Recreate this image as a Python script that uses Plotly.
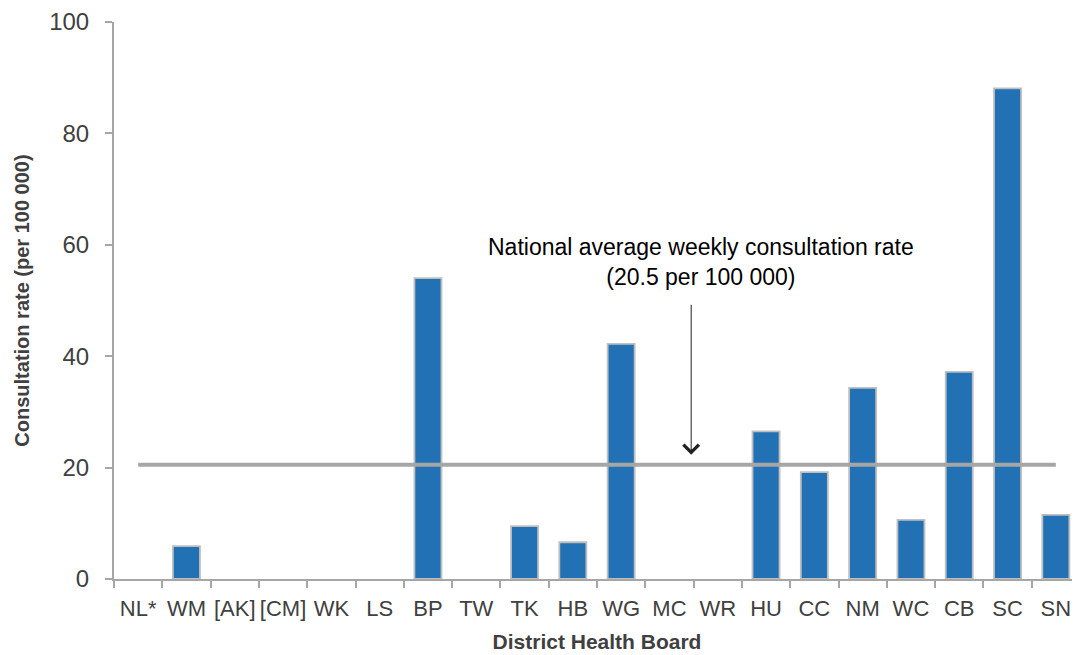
import plotly.graph_objects as go

categories = ["NL*", "WM", "[AK]", "[CM]", "WK", "LS", "BP", "TW", "TK", "HB",
              "WG", "MC", "WR", "HU", "CC", "NM", "WC", "CB", "SC", "SN"]
rates = [0, 5.9, 0, 0, 0, 0, 54.0, 0, 9.5, 6.6,
         42.2, 0, 0, 26.5, 19.2, 34.3, 10.6, 37.2, 88.1, 11.5]
national_average = 20.5
annotation_text = "National average weekly consultation rate<br>(20.5 per 100 000)"

FONT = "Liberation Sans, Arial, sans-serif"

fig = go.Figure()
fig.add_trace(go.Bar(
    x=categories, y=rates,
    marker=dict(color="#2271B5",
                line=dict(color="#BFBFBF", width=[1.8 if v > 0 else 0 for v in rates])),
    width=0.56, showlegend=False, hoverinfo="x+y",
))
fig.add_trace(go.Scatter(
    x=categories, y=[national_average] * len(categories),
    mode="lines", line=dict(color="#A6A6A6", width=4),
    showlegend=False,
))

# text label
fig.add_annotation(
    x=11.65, y=56.9, xref="x", yref="y",
    text=annotation_text, showarrow=False,
    font=dict(family=FONT, size=23, color="#000000"),
    align="center",
)
# arrow
fig.add_annotation(
    x=11.45, y=22.3, ax=11.45, ay=49.5,
    xref="x", yref="y", axref="x", ayref="y",
    text="", showarrow=True, arrowhead=4, arrowsize=3,
    arrowwidth=1, arrowcolor="#222222",
)

fig.update_layout(
    width=1072, height=647,
    margin=dict(l=106, r=0, t=14, b=76),
    plot_bgcolor="white", paper_bgcolor="white",
    font=dict(family=FONT, color="#404040"),
)
fig.update_xaxes(
    type="category", automargin=False, tickangle=0,
    showline=True, linecolor="#A6A6A6", linewidth=2,
    ticks="outside", ticklen=7, tickcolor="#A6A6A6", tickwidth=2,
    tickson="boundaries",
    tickfont=dict(family=FONT, size=22, color="#404040"),
    ticklabelstandoff=9,
    showgrid=False, zeroline=False,
    title=dict(text="<b>District Health Board</b>",
               font=dict(family=FONT, size=21, color="#404040"), standoff=14),
    range=[-0.5, 19.5],
)
fig.update_yaxes(
    range=[0, 100], dtick=20, automargin=False,
    showline=True, linecolor="#A6A6A6", linewidth=2,
    ticks="outside", ticklen=7, tickcolor="#A6A6A6", tickwidth=2,
    tickfont=dict(family=FONT, size=24, color="#404040"),
    ticklabelstandoff=11,
    showgrid=False, zeroline=False,
    title=dict(text="<b>Consultation rate (per 100 000)</b>",
               font=dict(family=FONT, size=20, color="#404040"), standoff=14),
)

fig.write_html("out.html")
